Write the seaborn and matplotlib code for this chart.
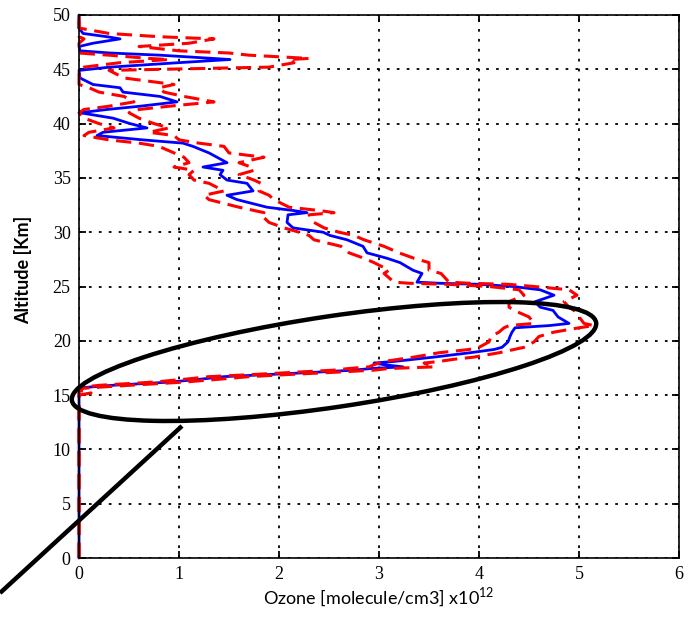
# Profil vertical d'ozone : moyenne (bleu) et enveloppe (rouge pointillé)

import numpy as np
import pandas as pd
import matplotlib.pyplot as plt
import seaborn as sns
from matplotlib.patches import Ellipse
from matplotlib.lines import Line2D

# Altitudes (km)
alt = [0.0, 15.0, 15.2, 15.4, 15.6, 15.7, 15.9, 16.2, 16.5, 16.7, 16.9, 17.1, 17.3, 17.45,
       17.6, 17.8, 17.95, 18.1, 18.3, 18.5, 18.9, 19.2, 19.4, 19.9, 20.4, 20.8,
       21.2, 21.4, 21.6, 22.2, 22.8, 23.1, 23.6, 24.2, 24.7, 25.0, 25.2, 25.3,
       25.4, 26.2, 26.5, 27.2, 27.6, 28.1, 28.7, 29.3, 29.7, 30.0, 30.4, 30.9,
       31.6, 31.8, 32.0, 32.3, 33.0, 33.4, 33.8, 34.5, 34.8, 35.3, 35.7, 36.0,
       36.4, 36.9, 37.3, 37.9, 38.2, 38.5, 38.9, 39.2, 39.6, 40.0, 40.5, 41.0,
       41.3, 41.6, 42.0, 42.5, 42.9, 43.3, 43.6, 44.2, 44.9, 45.2, 45.6, 45.9,
       46.0, 46.3, 46.5, 46.7, 47.1, 47.4, 47.8, 48.0, 48.3, 48.8, 50.0]

# Ozone moyen (x1e12 molecule/cm3)
ozone_moy = [0.00, 0.00, 0.00, 0.00, 0.00, 0.05, 0.33, 0.91, 1.25, 1.45, 1.91, 2.35, 2.75, 2.92,
             3.24, 3.05, 2.95, 3.15, 3.35, 3.55, 3.91, 4.15, 4.23, 4.29, 4.31, 4.33,
             4.36, 4.70, 4.90, 4.79, 4.74, 4.61, 4.56, 4.75, 4.61, 4.34, 4.01, 3.60,
             3.38, 3.43, 3.34, 3.21, 3.08, 2.88, 2.84, 2.68, 2.51, 2.44, 2.14, 2.08,
             2.09, 2.28, 2.14, 1.88, 1.58, 1.48, 1.74, 1.68, 1.48, 1.41, 1.44, 1.24,
             1.48, 1.38, 1.30, 1.14, 1.04, 0.64, 0.18, 0.24, 0.68, 0.51, 0.34, 0.01,
             0.28, 0.61, 0.98, 0.81, 0.44, 0.41, 0.14, 0.01, 0.00, 0.31, 0.98, 1.51,
             1.34, 0.81, 0.31, 0.01, 0.00, 0.14, 0.41, 0.28, 0.04, 0.00, 0.00]

# Enveloppe basse
ozone_bas = [0.00, 0.00, 0.00, 0.00, 0.00, 0.00, 0.20, 0.75, 1.10, 1.30, 1.75, 2.15, 2.55, 2.70,
             2.90, 2.95, 3.00, 3.05, 3.20, 3.35, 3.60, 3.90, 4.00, 4.10, 4.12, 4.20,
             4.25, 4.30, 4.55, 4.50, 4.35, 4.30, 4.30, 4.45, 4.40, 4.10, 3.70, 3.30,
             3.15, 3.05, 3.10, 2.95, 2.85, 2.70, 2.62, 2.35, 2.30, 2.20, 2.05, 1.90,
             1.82, 1.85, 1.75, 1.60, 1.30, 1.25, 1.45, 1.30, 1.15, 1.10, 1.15, 0.95,
             1.10, 1.05, 0.95, 0.80, 0.60, 0.30, 0.05, 0.10, 0.35, 0.20, 0.05, 0.00,
             0.05, 0.30, 0.55, 0.45, 0.20, 0.10, 0.00, 0.00, 0.00, 0.05, 0.40, 0.90,
             0.70, 0.30, 0.00, 0.00, 0.00, 0.00, 0.05, 0.00, 0.00, 0.00, 0.00]

# Enveloppe haute
ozone_haut = [0.00, 0.00, 0.12, 0.02, 0.00, 0.15, 0.50, 1.05, 1.45, 1.70, 2.10, 2.55, 2.95, 3.10,
              3.55, 3.50, 3.45, 3.60, 3.75, 3.95, 4.20, 4.35, 4.45, 4.55, 4.60, 4.75,
              5.00, 5.15, 5.05, 5.00, 4.95, 4.90, 4.85, 4.98, 4.90, 4.55, 4.30, 3.90,
              3.70, 3.62, 3.50, 3.50, 3.35, 3.20, 3.05, 2.85, 2.75, 2.60, 2.45, 2.35,
              2.30, 2.55, 2.40, 2.10, 1.95, 1.90, 1.80, 1.82, 1.75, 1.60, 1.75, 1.72,
              1.60, 1.85, 1.50, 1.45, 1.20, 1.00, 0.95, 0.70, 0.90, 0.75, 0.60, 0.50,
              0.60, 0.90, 1.35, 1.05, 0.85, 0.80, 0.95, 0.45, 0.30, 1.90, 2.15, 2.10,
              2.30, 1.70, 1.50, 1.00, 0.60, 1.10, 1.35, 0.80, 0.30, 0.00, 0.00]

df = pd.DataFrame({'Altitude': alt, 'Moyenne': ozone_moy,
                   'Bas': ozone_bas, 'Haut': ozone_haut})

sns.set_style('ticks')
plt.rcParams['font.family'] = ['Liberation Serif', 'DejaVu Serif']

fig = plt.figure(figsize=(6.89, 6.17), dpi=100)
ax = fig.add_axes([0.1147, 0.0956, 0.8708, 0.8801])

sns.lineplot(data=df, x='Moyenne', y='Altitude', sort=False, estimator=None,
             color='blue', lw=2.0, ax=ax, clip_on=False)
for col in ['Bas', 'Haut']:
    sns.lineplot(data=df, x=col, y='Altitude', sort=False, estimator=None,
                 color='red', lw=2.2, linestyle=(0, (5, 2.5)), ax=ax, clip_on=False)

ax.set_xlim(0, 6)
ax.set_ylim(0, 50)
ax.set_xticks(range(0, 7))
ax.set_yticks(range(0, 51, 5))

# Grille style MATLAB
ax.grid(True, color='black', linestyle=(0, (1.5, 4)), lw=1.3)
ax.tick_params(direction='in', length=5, width=1.3, top=True, right=True,
               labelsize=13, pad=6, colors='black')
for lbl in ax.get_xticklabels() + ax.get_yticklabels():
    lbl.set_family(['Liberation Serif', 'DejaVu Serif'])
for sp in ax.spines.values():
    sp.set_visible(True)
    sp.set_color('black')
    sp.set_linewidth(1.2)

ax.set_xlabel('Ozone [molecule/cm3] x10$^{\\mathregular{12}}$',
              family=['Lato', 'DejaVu Sans'], fontsize=13, color='black')
ax.set_ylabel('Altitude [Km]', family=['Lato', 'DejaVu Sans'], fontsize=13,
              fontweight='bold', color='black')
ax.xaxis.label.set_va('center')
ax.yaxis.label.set_va('center')
ax.xaxis.set_label_coords(0.5, -0.072)
ax.yaxis.set_label_coords(-0.093, 0.53)

# Ellipse et trait d'annotation (en pouces)
fig.add_artist(Ellipse((3.34, 2.555), width=5.30, height=0.91, angle=8.44,
                       transform=fig.dpi_scale_trans, fill=False,
                       edgecolor='black', lw=3.2))
fig.add_artist(Line2D([0.0, 1.82], [0.24, 1.91], transform=fig.dpi_scale_trans,
                      color='black', lw=3.2, solid_capstyle='butt'))

plt.savefig('out.png', dpi=100)
